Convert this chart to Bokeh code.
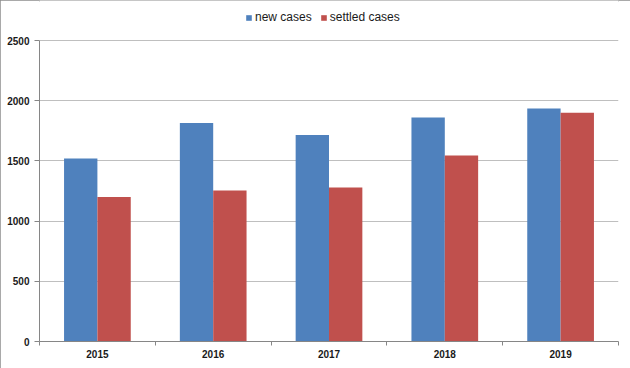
import numpy as np
from bokeh.plotting import figure
from bokeh.models import (ColumnDataSource, Range1d, FixedTicker, Legend, LegendItem)
from bokeh.transform import dodge
from bokeh.embed import file_html
from bokeh.resources import INLINE

years = ["2015", "2016", "2017", "2018", "2019"]
new_cases = [1520, 1815, 1715, 1860, 1935]
settled_cases = [1200, 1255, 1280, 1545, 1900]
y_ticks = [0, 500, 1000, 1500, 2000, 2500]
y_axis_max = 2500

BLUE = "#4F81BD"
RED = "#C0504D"
GRID = "#BFBFBF"
AXIS = "#868686"
FONT = "Liberation Sans"

# headroom above the axis maximum leaves space for the legend inside the frame
y_view_top = y_axis_max * 341 / 301

pos = list(np.arange(len(years)) + 0.5)
source = ColumnDataSource(dict(x=pos, year=years, new=new_cases, settled=settled_cases))

p = figure(width=630, height=368, output_backend="svg", toolbar_location=None,
           x_range=Range1d(0, len(years)), y_range=Range1d(0, y_view_top),
           min_border_left=39, min_border_right=12, min_border_top=0,
           min_border_bottom=27)
p.styles = {"outline": "2px solid #8c8c8c", "outline-offset": "-2px"}
p.outline_line_color = None
p.background_fill_color = "white"
p.border_fill_color = "white"

r1 = p.vbar(x=dodge("x", -0.144, range=p.x_range), top="new", width=0.288,
            source=source, fill_color=BLUE, line_color=None)
r2 = p.vbar(x=dodge("x", 0.144, range=p.x_range), top="settled", width=0.288,
            source=source, fill_color=RED, line_color=None)

# x axis
p.xaxis.ticker = FixedTicker(ticks=pos, minor_ticks=list(range(len(years) + 1)))
p.xaxis.major_label_overrides = {float(v): y for v, y in zip(pos, years)}
p.xaxis.major_tick_line_color = None
p.xaxis.major_tick_in = 0
p.xaxis.major_tick_out = 0
p.xaxis.minor_tick_line_color = AXIS
p.xaxis.minor_tick_in = 0
p.xaxis.minor_tick_out = 4
p.xaxis.axis_line_color = AXIS
p.xaxis.major_label_text_font = FONT
p.xaxis.major_label_text_font_style = "bold"
p.xaxis.major_label_text_font_size = "10px"
p.xaxis.major_label_text_color = "#1a1a1a"
p.xaxis.major_label_standoff = 4
p.xgrid.grid_line_color = None

# y axis
p.yaxis.ticker = FixedTicker(ticks=y_ticks)
p.yaxis.bounds = (0, y_axis_max)
p.yaxis.minor_tick_line_color = None
p.yaxis.major_tick_in = 0
p.yaxis.major_tick_out = 5
p.yaxis.major_tick_line_color = AXIS
p.yaxis.axis_line_color = AXIS
p.yaxis.major_label_text_font = FONT
p.yaxis.major_label_text_font_style = "bold"
p.yaxis.major_label_text_font_size = "10px"
p.yaxis.major_label_text_color = "#1a1a1a"
p.yaxis.major_label_standoff = 5
p.ygrid.grid_line_color = GRID
p.ygrid.ticker = FixedTicker(ticks=y_ticks)

legend = Legend(items=[LegendItem(label="new cases", renderers=[r1]),
                       LegendItem(label="settled cases", renderers=[r2])],
                orientation="horizontal", location=(206, 317),
                glyph_width=7, glyph_height=7, label_standoff=3, spacing=8,
                label_text_font=FONT, label_text_font_size="12px",
                label_text_color="#1a1a1a", border_line_color=None,
                background_fill_color=None, padding=0, margin=0,
                label_height=14)
p.add_layout(legend, "center")

open("out.html", "w").write(file_html(p, INLINE))
